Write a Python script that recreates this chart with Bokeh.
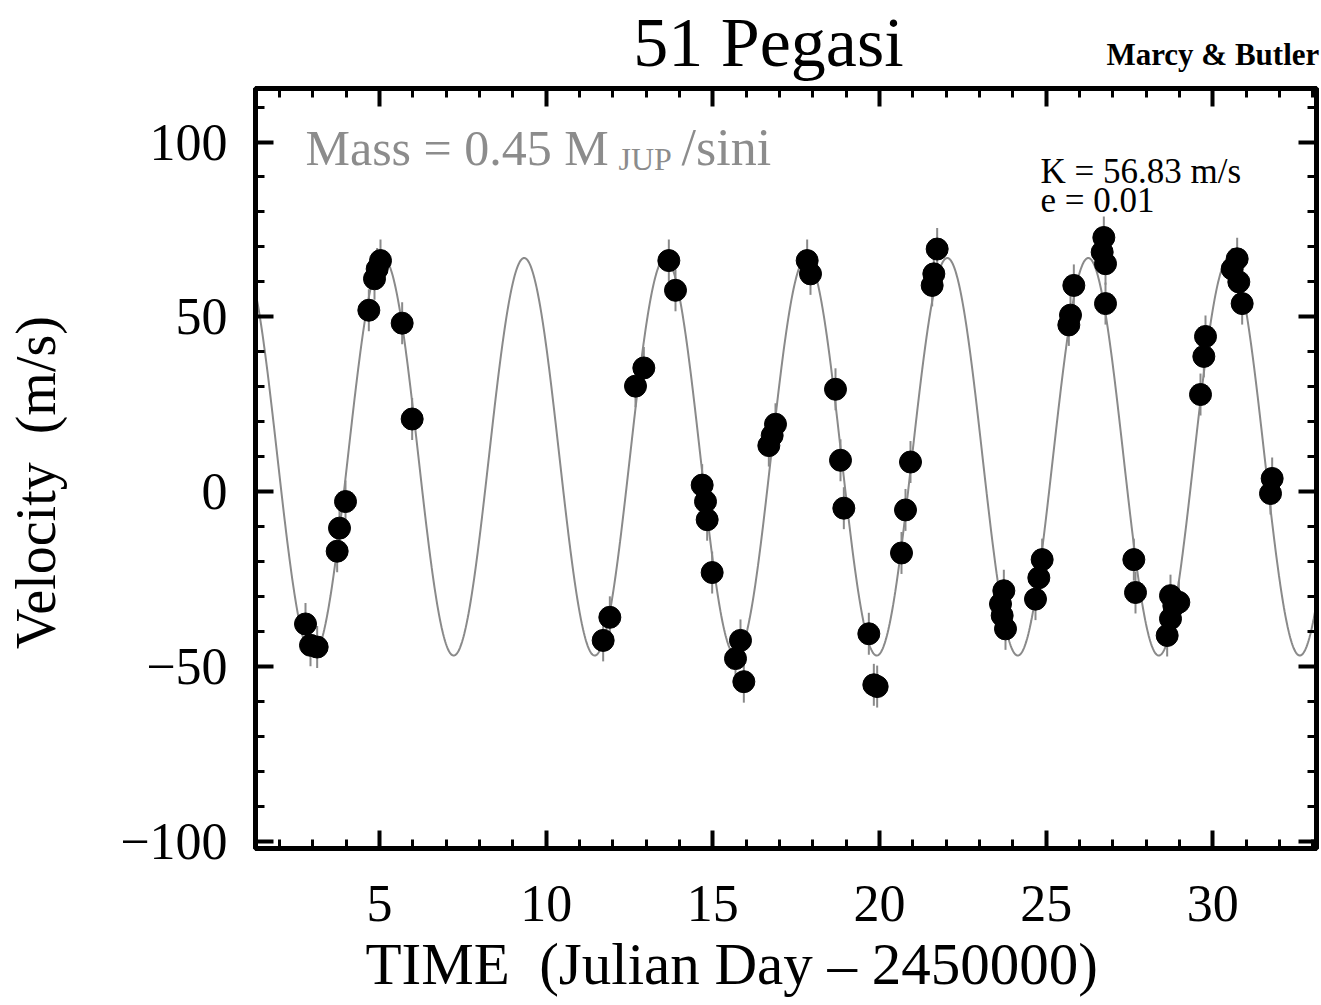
import numpy as np
from bokeh.plotting import figure
from bokeh.models import (Label, LinearAxis, SingleIntervalTicker, Range1d, ColumnDataSource,
                          Title, CustomJSTickFormatter)
from bokeh.embed import file_html
from bokeh.resources import INLINE

# ---------------- data ----------------
time_jd = [2.78, 2.93, 3.13, 3.73, 3.80, 3.98, 4.68, 4.85, 4.93, 5.03, 5.68, 5.98,
           11.71, 11.91, 12.68, 12.93, 13.68, 13.88, 14.68, 14.78, 14.83, 14.98, 15.68, 15.83, 15.93,
           16.68, 16.78, 16.88, 17.83, 17.93, 18.68, 18.83, 18.93, 19.68, 19.83, 19.93, 20.66, 20.78,
           20.93, 21.58, 21.63, 21.73,
           23.63, 23.68, 23.73, 23.78, 24.68, 24.78, 24.88, 25.68, 25.73, 25.83, 26.68, 26.73, 26.78,
           26.78, 27.63, 27.68,
           28.63, 28.73, 28.73, 28.83, 28.98, 29.63, 29.73, 29.78, 30.58, 30.73, 30.78, 30.88, 31.73, 31.78]
velocity = [-37.8, -43.9, -44.4, -17.0, -10.4, -2.8, 51.9, 60.9, 63.7, 66.1, 48.2, 20.8,
            -42.5, -35.9, 30.2, 35.4, 66.1, 57.6, 1.9, -2.8, -8.0, -23.1, -47.7, -42.5, -54.3,
            13.2, 16.1, 19.3, 66.1, 62.3, 29.3, 9.0, -4.7, -40.6, -55.2, -55.7, -17.5, -5.2,
            8.5, 59.0, 62.3, 69.4,
            -32.1, -35.4, -28.3, -39.2, -30.7, -24.6, -19.4, 47.7, 50.5, 59.0, 68.5, 72.7, 65.2,
            53.8, -19.4, -28.8,
            -41.1, -29.7, -36.3, -32.6, -31.6, 27.8, 38.7, 44.4, 63.7, 66.6, 60.0, 53.8, -0.5, 3.8]
velocity_err = [6.0] * len(time_jd)

# orbit fit parameters (model curve)
K_semi_amp = 56.83
ecc = 0.01
period_days = 4.2308
t_peak = 5.11
gamma_offset = 10.0

y_tick_overrides = {-100: "\u2212100", -50: "\u221250", 0: "0", 50: "50", 100: "100"}
credit_text = "Marcy & Butler"
credit_tick = 30

# ---------------- layout ----------------
X_START, X_END = 1.28, 33.11
Y_START, Y_END = -102.0, 115.3
W, H = 1321, 1005
FL, FR, FT, FB = 255, 1316, 88, 855   # frame in pixels

def dx(px):
    return X_START + (px - FL) * (X_END - X_START) / (FR - FL)

def dy(py):
    return Y_END - (py - FT) * (Y_END - Y_START) / (FB - FT)

p = figure(width=W, height=H, x_range=Range1d(X_START, X_END), y_range=Range1d(Y_START, Y_END),
           output_backend="svg", toolbar_location=None, x_axis_type=None, y_axis_type=None,
           min_border_left=FL, min_border_right=W - FR, min_border_top=FT, min_border_bottom=H - FB)
p.title.text = ""
p.background_fill_color = "white"
p.border_fill_color = "white"
p.outline_line_color = "black"
p.outline_line_width = 5

FONT = "Liberation Serif"

def make_axis(ticker, labels):
    ax = LinearAxis(ticker=ticker)
    ax.axis_line_width = 5
    ax.axis_line_color = "black"
    ax.major_tick_in = 18
    ax.major_tick_out = 0
    ax.minor_tick_in = 9
    ax.minor_tick_out = 0
    ax.major_tick_line_width = 4
    ax.minor_tick_line_width = 3
    ax.major_tick_line_color = "black"
    ax.minor_tick_line_color = "black"
    ax.major_label_text_font = FONT
    ax.major_label_text_color = "black"
    ax.major_label_text_font_size = "52px"
    if not labels:
        ax.formatter = CustomJSTickFormatter(code="return ''")
        ax.major_label_standoff = 0
    return ax

xb = make_axis(SingleIntervalTicker(interval=5, num_minor_ticks=5), True)
xb.major_label_standoff = 37
yl = make_axis(SingleIntervalTicker(interval=50, num_minor_ticks=5), True)
yl.major_label_standoff = 28
yl.major_label_overrides = y_tick_overrides
yl.axis_label = "Velocity \u00a0(m/s)\u00a0\u00a0"
yl.axis_label_text_font = FONT
yl.axis_label_text_font_size = "56px"
yl.axis_label_text_font_style = "normal"
yl.axis_label_text_color = "black"
yl.axis_label_standoff = 50

# top axis: ticks, the credit line as the label of one tick, and the title as its axis label
xt = make_axis(SingleIntervalTicker(interval=5, num_minor_ticks=5), True)
xt.formatter = CustomJSTickFormatter(
    args=dict(lab=credit_text, at=credit_tick),
    code="return Math.abs(tick - at) < 1e-6 ? lab : '';")
xt.major_label_text_font_size = "31px"
xt.major_label_text_font_style = "bold"
xt.major_label_standoff = 17
xt.axis_label = "51 Pegasi\u00a0\u00a0"
xt.axis_label_text_font = FONT
xt.axis_label_text_font_size = "70px"
xt.axis_label_text_font_style = "normal"
xt.axis_label_text_color = "black"
xt.axis_label_standoff = -47
yr = make_axis(SingleIntervalTicker(interval=50, num_minor_ticks=5), False)
p.add_layout(xb, "below")
p.add_layout(yl, "left")
p.add_layout(xt, "above")
p.add_layout(yr, "right")

x_title = Title(text="TIME \u00a0(Julian Day \u2013 2450000)", align="left", vertical_align="top",
                text_font=FONT, text_font_size="59px", text_font_style="normal",
                text_color="black", offset=110, standoff=14)
p.add_layout(x_title, "below")

# model curve
t_model = np.linspace(X_START, X_END, 1500)
v_model = gamma_offset + K_semi_amp * np.cos(2 * np.pi * (t_model - t_peak) / period_days)
p.line(t_model, v_model, line_color="#8a8a8a", line_width=2)

# data
t_arr = np.array(time_jd)
v_arr = np.array(velocity)
e_arr = np.array(velocity_err)
src = ColumnDataSource(dict(t=t_arr, v=v_arr, lo=v_arr - e_arr, hi=v_arr + e_arr))
p.segment(x0="t", y0="lo", x1="t", y1="hi", source=src, line_color="#8a8a8a", line_width=2)
p.scatter(x="t", y="v", source=src, size=22, fill_color="black", line_color="black")

# texts inside the frame
def lab(text, xp, yp, size, align="left", color="black", style="normal"):
    p.add_layout(Label(x=dx(xp), y=dy(yp), text=text, text_font=FONT, text_font_size=size,
                       text_align=align, text_baseline="alphabetic", text_color=color,
                       text_font_style=style))

lab("Mass = 0.45 M", 305, 148, "50px", color="#8c8c8c")
lab("JUP", 618, 159, "32px", color="#8c8c8c")
lab("/sini", 681, 148, "52px", color="#8c8c8c")
lab(f"K = {K_semi_amp:.2f} m/s", 1040, 172, "35px")
lab(f"e = {ecc:.2f}", 1040, 201, "35px")

open("out.html", "w").write(file_html(p, INLINE))
